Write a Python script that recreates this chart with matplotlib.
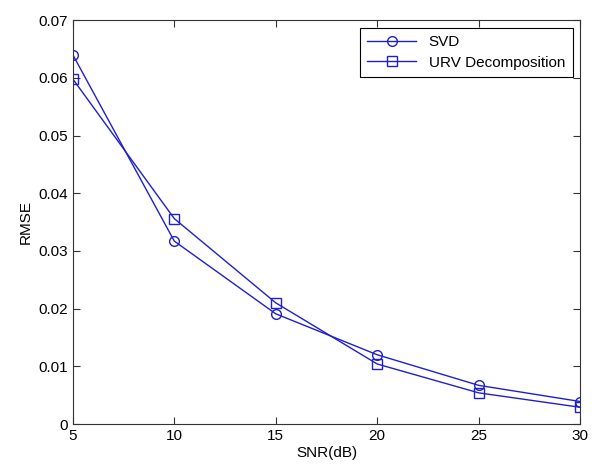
import matplotlib.pyplot as plt
import numpy as np

plt.rcParams['font.family'] = ['Liberation Sans', 'DejaVu Sans']

# Дані
snr = [5, 10, 15, 20, 25, 30]
rmse_svd = [0.0640, 0.0317, 0.0191, 0.0120, 0.0067, 0.0039]
rmse_urv = [0.0598, 0.0356, 0.0210, 0.0104, 0.0054, 0.0029]

fig = plt.figure(figsize=(5.92, 4.68), dpi=100)
ax = fig.add_axes([0.123, 0.094, 0.857, 0.863])

ax.plot(snr, rmse_svd, color="#1f1fd0", linewidth=1, marker="o",
        markersize=7, markerfacecolor="none", label="SVD")
ax.plot(snr, rmse_urv, color="#1f1fd0", linewidth=1, marker="s",
        markersize=7, markerfacecolor="none", label="URV Decomposition")

ax.set_xlim(5, 30)
ax.set_ylim(0, 0.07)
ax.set_xticks(snr)
ax.set_yticks(np.arange(0, 0.071, 0.01))
ax.set_yticklabels(["0", "0.01", "0.02", "0.03", "0.04", "0.05", "0.06", "0.07"])
ax.tick_params(direction="in", top=True, right=True, labelsize=11, length=5,
               color="#333333")
for s in ax.spines.values():
    s.set_color("#333333")
ax.set_xlabel("SNR(dB)", fontsize=11, labelpad=2)
ax.set_ylabel("RMSE", fontsize=11)

leg = ax.legend(loc="upper right", fontsize=11, fancybox=False,
                edgecolor="black", framealpha=1, borderaxespad=0.5,
                handlelength=3.2, labelspacing=0.4, borderpad=0.5)
leg.get_frame().set_linewidth(0.8)

fig.savefig("out.png", dpi=100)
